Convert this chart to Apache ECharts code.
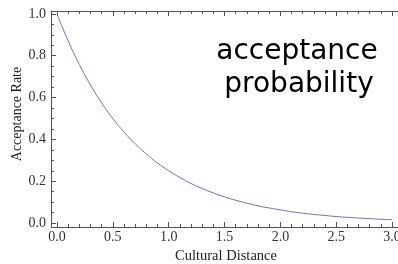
<!DOCTYPE html>
<html>
<head>
<meta charset="utf-8">
<script src="https://cdn.jsdelivr.net/npm/echarts@6/dist/echarts.min.js"></script>
<style>
html, body { margin: 0; padding: 0; background: #fff; }
#main { width: 398px; height: 264px; }
</style>
</head>
<body>
<div id="main"></div>
<script>
// curve, every 0.1 of cultural distance
var distance = [0.0, 0.1, 0.2, 0.3, 0.4, 0.5, 0.6, 0.7, 0.8, 0.9, 1.0,
                1.1, 1.2, 1.3, 1.4, 1.5, 1.6, 1.7, 1.8, 1.9, 2.0,
                2.1, 2.2, 2.3, 2.4, 2.5, 2.6, 2.7, 2.8, 2.9, 3.0];
var rate = [1.000, 0.871, 0.758, 0.660, 0.574, 0.500, 0.435, 0.379, 0.330, 0.287, 0.250,
            0.218, 0.189, 0.165, 0.144, 0.125, 0.109, 0.095, 0.082, 0.072, 0.063,
            0.054, 0.047, 0.041, 0.036, 0.031, 0.027, 0.024, 0.021, 0.018, 0.016];

// tick labels
var xMajor = [0, 0.5, 1.0, 1.5, 2.0, 2.5, 3.0];
var xMinor = [0.1, 0.2, 0.3, 0.4, 0.6, 0.7, 0.8, 0.9, 1.1, 1.2, 1.3, 1.4,
              1.6, 1.7, 1.8, 1.9, 2.1, 2.2, 2.3, 2.4, 2.6, 2.7, 2.8, 2.9];
var yMajor = [0, 0.2, 0.4, 0.6, 0.8, 1.0];
var yMinor = [0.05, 0.1, 0.15, 0.25, 0.3, 0.35, 0.45, 0.5, 0.55,
              0.65, 0.7, 0.75, 0.85, 0.9, 0.95];

var axisColor = '#555';
var serif = '"Liberation Serif", "DejaVu Serif", serif';

function xAx(pos, ticks, len, labels, line) {
    return {
        type: 'value', position: pos, min: -0.054, max: 3.053,
        axisLine: { show: line, onZero: false, lineStyle: { color: axisColor, width: 1 } },
        axisTick: { show: true, inside: true, length: len, customValues: ticks,
                    lineStyle: { color: axisColor } },
        axisLabel: { show: labels, customValues: ticks, margin: 3,
                     formatter: function (v) { return v.toFixed(1); },
                     fontFamily: serif, fontSize: 14, color: '#333' },
        splitLine: { show: false }
    };
}
function yAx(ticks, len, labels, line) {
    return {
        type: 'value', position: 'left', min: -0.019, max: 1.014,
        axisLine: { show: line, onZero: false, lineStyle: { color: axisColor, width: 1 } },
        axisTick: { show: true, inside: true, length: len, customValues: ticks,
                    lineStyle: { color: axisColor } },
        axisLabel: { show: labels, customValues: ticks, margin: 5,
                     formatter: function (v) { return v.toFixed(1); },
                     fontFamily: serif, fontSize: 14, color: '#333' },
        splitLine: { show: false }
    };
}

var chart = echarts.init(document.getElementById('main'));
chart.setOption({
    animation: false,
    grid: { left: 51, top: 11, right: 0, bottom: 37, containLabel: false, outerBoundsMode: 'none' },
    xAxis: [
        xAx('bottom', xMajor, 5, true, true),
        xAx('bottom', xMinor, 3, false, false),
        xAx('top', xMajor, 5, false, true),
        xAx('top', xMinor, 3, false, false)
    ],
    yAxis: [
        yAx(yMajor, 5, true, true),
        yAx(yMinor, 3, false, false)
    ],
    series: [{
        type: 'line',
        xAxisIndex: 0, yAxisIndex: 0,
        data: distance.map(function (d, i) { return [d, rate[i]]; }),
        smooth: true,
        showSymbol: false,
        lineStyle: { color: '#6e6ec0', width: 1 }
    }],
    graphic: [
        { type: 'text', x: 17, y: 114, rotation: Math.PI / 2,
          style: { text: 'Acceptance Rate', font: '14px ' + serif, fill: '#222',
                   align: 'center', verticalAlign: 'middle' } },
        { type: 'text', x: 226, y: 256,
          style: { text: 'Cultural Distance', font: '14.5px ' + serif, fill: '#222',
                   align: 'center', verticalAlign: 'middle' } },
        { type: 'text', x: 297, y: 52,
          style: { text: 'acceptance', font: '28px "Comic Sans MS", "DejaVu Sans", sans-serif', fill: '#000',
                   align: 'center', verticalAlign: 'middle' } },
        { type: 'text', x: 299, y: 85,
          style: { text: 'probability', font: '28px "Comic Sans MS", "DejaVu Sans", sans-serif', fill: '#000',
                   align: 'center', verticalAlign: 'middle' } }
    ]
});
</script>
</body>
</html>
